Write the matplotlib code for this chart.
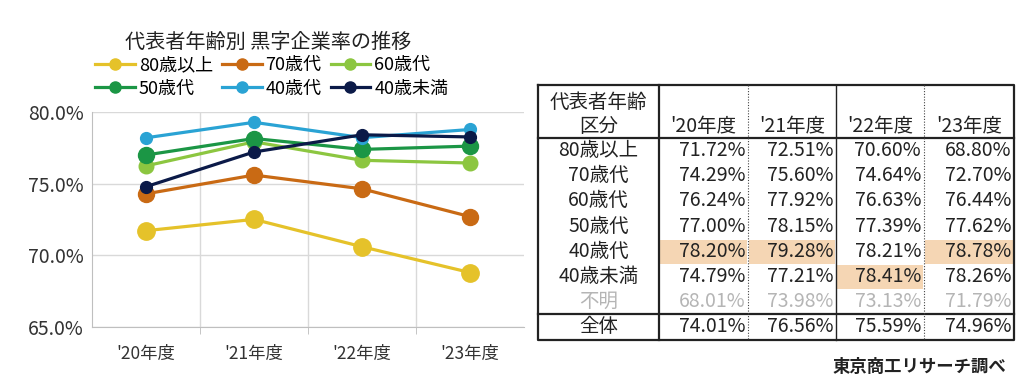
import matplotlib.pyplot as plt
from matplotlib.lines import Line2D
from matplotlib.patches import Rectangle

plt.rcParams['font.family'] = ['Noto Sans CJK JP', 'DejaVu Sans']

years = ["'20年度", "'21年度", "'22年度", "'23年度"]
groups = ['80歳以上', '70歳代', '60歳代', '50歳代', '40歳代', '40歳未満']
v80 = [71.72, 72.51, 70.60, 68.80]
v70 = [74.29, 75.60, 74.64, 72.70]
v60 = [76.24, 77.92, 76.63, 76.44]
v50 = [77.00, 78.15, 77.39, 77.62]
v40 = [78.20, 79.28, 78.21, 78.78]
v40u = [74.79, 77.21, 78.41, 78.26]
unknown = [68.01, 73.98, 73.13, 71.79]
total = [74.01, 76.56, 75.59, 74.96]
series = [v80, v70, v60, v50, v40, v40u]
colors = ['#e5c22a', '#c96a14', '#8cc640', '#1b9645', '#2aa3d4', '#0b1a48']
msizes = [12.5, 11.5, 10.5, 11.5, 8.5, 8.5]
# highlighted cells (row index, col index)
highlights = [(4, 0), (4, 1), (4, 3), (5, 2)]

fig = plt.figure(figsize=(10.27, 3.8), dpi=100)

# ---- line chart
ax = fig.add_axes([92/1027, 1-327/380, 432/1027, 215/380])
x = range(len(years))
for vals, c, ms in zip(series, colors, msizes):
    ax.plot(x, vals, color=c, lw=2.3, marker='o', ms=ms, zorder=3)
ax.set_xlim(-0.5, 3.5)
ax.set_ylim(65, 80)
ax.set_yticks([65, 70, 75, 80])
ax.set_yticklabels(['%.1f%%' % v for v in [65, 70, 75, 80]], fontsize=14, color='#333333')
ax.set_xticks(list(x))
ax.set_xticklabels(years, fontsize=12.5, color='#333333')
ax.set_xticks([0.5, 1.5, 2.5], minor=True)
ax.tick_params(axis='x', which='major', length=0, pad=13)
ax.tick_params(axis='x', which='minor', length=5, color='#bbbbbb')
ax.tick_params(axis='y', length=0, pad=6)
ax.grid(True, axis='y', color='#d9d9d9', lw=1)
ax.grid(True, axis='x', which='minor', color='#d9d9d9', lw=1)
for s in ['top', 'right']:
    ax.spines[s].set_visible(False)
for s in ['left', 'bottom']:
    ax.spines[s].set_color('#bfbfbf')

fig.text(268/1027, 1-42/380, '代表者年齢別 黒字企業率の推移', ha='center', va='center',
         fontsize=14.5, color='#222222')

handles = [Line2D([], [], color=c, lw=2.3, marker='o', ms=8) for c in colors]
order = [0, 3, 1, 4, 2, 5]
ax.legend([handles[i] for i in order], [groups[i] for i in order], ncol=3,
          loc='upper left', bbox_to_anchor=(95/1027, 1-56/380), bbox_transform=fig.transFigure,
          frameon=False, fontsize=13, handlelength=2.2, handletextpad=0.22,
          columnspacing=0.5, labelspacing=0.32, borderpad=0, borderaxespad=0)

# ---- table drawn in pixel coordinates
tx = fig.add_axes([0, 0, 1, 1])
tx.set_xlim(0, 1027)
tx.set_ylim(380, 0)
tx.axis('off')

cols = [538, 659, 748, 836, 924, 1014]
top, head_bot, data_bot, bottom = 85, 138, 314, 340
rh = (data_bot - head_bot) / 7

for r, c in highlights:
    tx.add_patch(Rectangle((cols[c+1]+1, head_bot+r*rh+1), cols[c+2]-cols[c+1]-2, rh-1,
                           facecolor='#f5d6b4', edgecolor='none'))

fs = 14
tx.text((cols[0]+cols[1])/2, 102, '代表者年齢', ha='center', va='center', fontsize=fs, color='#222222')
tx.text((cols[0]+cols[1])/2, 127, '区分', ha='center', va='center', fontsize=fs, color='#222222')
for j, y in enumerate(years):
    tx.text((cols[j+1]+cols[j+2])/2, 127, y, ha='center', va='center', fontsize=fs, color='#222222')

rows = groups + ['不明']
vals_all = series + [unknown]
for i, (name, vals) in enumerate(zip(rows, vals_all)):
    yc = head_bot + (i+0.5)*rh
    tc = '#b5b5b5' if name == '不明' else '#222222'
    tx.text((cols[0]+cols[1])/2, yc, name, ha='center', va='center', fontsize=fs, color=tc)
    for j, v in enumerate(vals):
        tx.text(cols[j+2]-3, yc, '%.2f%%' % v, ha='right', va='center', fontsize=fs, color=tc)
yc = (data_bot+bottom)/2
tx.text((cols[0]+cols[1])/2, yc, '全体', ha='center', va='center', fontsize=fs, color='#222222')
for j, v in enumerate(total):
    tx.text(cols[j+2]-3, yc, '%.2f%%' % v, ha='right', va='center', fontsize=fs, color='#222222')

k = dict(color='#222222', lw=1.6)
tx.plot([cols[0], cols[-1], cols[-1], cols[0], cols[0]], [top, top, bottom, bottom, top], **k)
tx.plot([cols[0], cols[-1]], [head_bot, head_bot], **k)
tx.plot([cols[0], cols[-1]], [data_bot, data_bot], **k)
tx.plot([cols[1], cols[1]], [top, bottom], **k)
tx.plot([cols[3], cols[3]], [top, bottom], color='#222222', lw=1)
for cx in [cols[2], cols[4]]:
    tx.plot([cx, cx], [top, bottom], color='#444444', lw=0.8, ls=(0, (1, 1.5)))

fig.text(1006/1027, 1-367/380, '東京商工リサーチ調べ', ha='right', va='center',
         fontsize=12.5, color='#222222', fontweight='bold')

fig.savefig('out.png', dpi=100, facecolor='white')
